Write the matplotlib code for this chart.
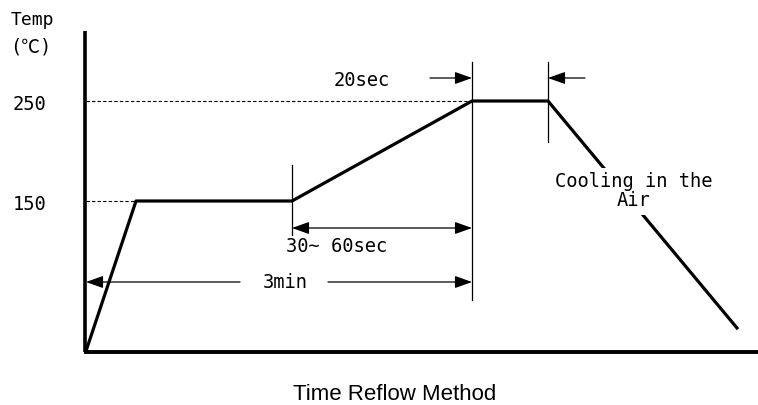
import matplotlib.pyplot as plt

# Reflow temperature profile (time in arbitrary units, temperature in C)
profile_time = [0, 50, 206, 386, 462, 651]
profile_temp = [0, 150, 150, 250, 250, 23]

temp_ticks = [150, 250]
temp_labels = ['150', '250']

mono = ['DejaVu Sans Mono', 'Noto Sans CJK JP']

fig = plt.figure(figsize=(7.58, 4.05), dpi=100)
ax = fig.add_axes([0, 0, 1, 1])
ax.set_xlim(-86, 672)
ax.set_ylim(-54, 351)
ax.axis('off')

# axes drawn by hand
ax.plot([-1.5, 674], [-1, -1], color='black', lw=2.8, solid_capstyle='butt')
ax.plot([-1, -1], [-1, 320], color='black', lw=2.6, solid_capstyle='butt')

# profile
ax.plot(profile_time, profile_temp, color='black', lw=2.3, zorder=3)

# dashed guide lines to the plateau levels
ax.plot([0, profile_time[1]], [150, 150], color='black', lw=0.8, ls=(0, (3, 2)))
ax.plot([0, profile_time[3]], [250, 250], color='black', lw=0.8, ls=(0, (3, 2)))

for t, lab in zip(temp_ticks, temp_labels):
    ax.text(-56, t - 4, lab, family=mono, fontsize=13.5, ha='center', va='center')
ax.text(-54, 331, 'Temp', family=mono, fontsize=13, ha='center', va='center')
ax.text(-55, 304, '(℃)', family=mono, fontsize=13.5, ha='center', va='center')

# thin vertical markers
ax.plot([profile_time[2]] * 2, [186, 116], color='black', lw=0.9)
ax.plot([profile_time[3]] * 2, [289, 51], color='black', lw=0.9)
ax.plot([profile_time[4]] * 2, [289, 209], color='black', lw=0.9)

style_r = '-|>,head_length=0.7,head_width=0.25'
style_lr = '<|-|>,head_length=0.7,head_width=0.25'
head = dict(color='black', lw=0.9, mutation_scale=15, shrinkA=0, shrinkB=0)

# 20sec arrows
ax.annotate('', xy=(profile_time[3], 273), xytext=(profile_time[3] - 42, 273),
            arrowprops=dict(arrowstyle=style_r, **head))
ax.annotate('', xy=(profile_time[4], 273), xytext=(profile_time[4] + 37, 273),
            arrowprops=dict(arrowstyle=style_r, **head))
ax.text(276, 270, '20sec', family=mono, fontsize=13.5, ha='center', va='center')

# 30~60sec arrow
ax.annotate('', xy=(profile_time[3], 123), xytext=(profile_time[2], 123),
            arrowprops=dict(arrowstyle=style_lr, **head))
ax.text(251, 104, '30~ 60sec', family=mono, fontsize=13.5, ha='center', va='center')

# 3min arrow
ax.annotate('', xy=(0, 69), xytext=(154, 69),
            arrowprops=dict(arrowstyle=style_r, **head))
ax.annotate('', xy=(profile_time[3], 69), xytext=(242, 69),
            arrowprops=dict(arrowstyle=style_r, **head))
ax.text(199, 68, '3min', family=mono, fontsize=13.5, ha='center', va='center')

# cooling label, covering the line
ax.text(548, 160, 'Cooling in the\nAir', family=mono, fontsize=13.5,
        ha='center', va='center', linespacing=1.05, zorder=4,
        bbox=dict(facecolor='white', edgecolor='none', pad=3))

ax.text(309, -43, 'Time Reflow Method', family='Liberation Sans', fontsize=16,
        ha='center', va='center')

fig.savefig('out.png', dpi=100)
